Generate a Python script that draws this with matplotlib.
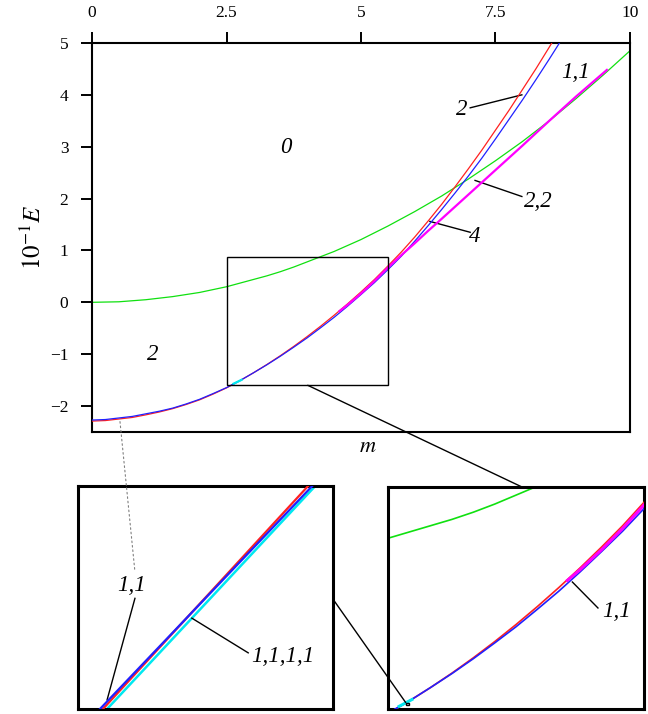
import matplotlib
matplotlib.use('Agg')
import matplotlib.pyplot as plt
from matplotlib.patches import Rectangle, ConnectionPatch

plt.rcParams['font.family'] = ['Liberation Serif', 'DejaVu Serif']
plt.rcParams['mathtext.fontset'] = 'stix'

# branches E(m) (10^-1 E)
M_RB = [0, 0.25, 0.5, 0.75, 1.0, 1.25, 1.5, 1.75, 2.0, 2.25, 2.5, 2.75, 3.0, 3.25, 3.5, 3.75, 4.0, 4.25,
        4.5, 4.75, 5.0, 5.25, 5.5, 5.75, 6.0, 6.25, 6.5, 6.75, 7.0, 7.25, 7.5, 7.75, 8.0, 8.25, 8.5, 8.75]
E_RED = [-2.29, -2.28, -2.25, -2.22, -2.17, -2.115, -2.05, -1.97, -1.88, -1.77, -1.65, -1.51, -1.36, -1.20,
         -1.03, -0.85, -0.66, -0.46, -0.25, -0.03, 0.20, 0.44, 0.70, 0.97, 1.26, 1.57, 1.89, 2.23, 2.58, 2.94,
         3.32, 3.70, 4.10, 4.50, 4.92, 5.35]
E_BLUE = [-2.27, -2.26, -2.23, -2.20, -2.15, -2.10, -2.04, -1.96, -1.87, -1.76, -1.645, -1.51, -1.36, -1.205,
          -1.04, -0.865, -0.685, -0.49, -0.29, -0.075, 0.15, 0.38, 0.63, 0.89, 1.18, 1.48, 1.79, 2.11, 2.44,
          2.785, 3.15, 3.525, 3.90, 4.29, 4.69, 5.10]
M_GREEN = [0, 0.5, 1.0, 1.5, 2.0, 2.5, 2.75, 3.0, 3.25, 3.5, 3.75, 4.0, 4.25, 4.5, 5.0, 5.5, 6.0, 6.5, 7.0,
           7.5, 8.0, 8.5, 9.0, 9.5, 10.0]
E_GREEN = [0.0, 0.01, 0.05, 0.11, 0.19, 0.30, 0.37, 0.44, 0.51, 0.59, 0.68, 0.78, 0.88, 0.98, 1.21, 1.47,
           1.75, 2.05, 2.38, 2.73, 3.10, 3.50, 3.93, 4.38, 4.85]
M_MAG = [4.6, 4.75, 5.0, 5.25, 5.5, 5.75, 6.0, 6.25, 6.5, 7.0, 7.5, 8.0, 8.5, 9.0, 9.57]
E_MAG = [-0.17, -0.05, 0.17, 0.41, 0.67, 0.91, 1.14, 1.38, 1.61, 2.08, 2.55, 3.02, 3.50, 3.97, 4.48]
M_CYAN = [2.63, 2.70, 2.78]
E_CYAN = [-1.57, -1.535, -1.495]

# fine detail near m=2.73 (left inset)
DET_E = [-1.555, -1.528]
DET_M_BLUE = [2.7107, 2.7465]
DET_M_RED = [2.7112, 2.7458]
DET_M_CYAN = [2.7119, 2.7470]

XTICKS = [0, 2.5, 5, 7.5, 10]
XTICKLABELS = ['0', '2.5', '5', '7.5', '10']
YTICKS = [-2, -1, 0, 1, 2, 3, 4, 5]

BOX = (2.5, 5.5, -1.60, 0.87)
SMALL = (2.707, 2.750, -1.555, -1.528)

RED = '#ff2020'; BLUE = '#2020ff'; GREEN = '#10e010'; MAG = '#ff00ff'; CYAN = '#00e8f0'

fig = plt.figure(figsize=(6.48, 7.14), dpi=100)
ax = fig.add_axes([0.1420, 0.3950, 0.8302, 0.5448])
axl = fig.add_axes([0.1204, 0.0070, 0.3935, 0.3123])
axr = fig.add_axes([0.5988, 0.0070, 0.3951, 0.3109])

def curves(a, lw=0.9):
    a.plot(M_GREEN, E_GREEN, color=GREEN, lw=lw, zorder=2)
    a.plot(M_RB, E_RED, color=RED, lw=lw, zorder=3)
    a.plot(M_RB, E_BLUE, color=BLUE, lw=lw, zorder=3)
    a.plot(M_MAG, E_MAG, color=MAG, lw=lw * 1.8, zorder=4)
    a.plot(M_CYAN, E_CYAN, color=CYAN, lw=lw * 1.8, zorder=5)

# main panel
curves(ax)
ax.set_xlim(0, 10); ax.set_ylim(-2.5, 5)
ax.xaxis.tick_top()
ax.set_xticks(XTICKS); ax.set_xticklabels(XTICKLABELS)
ax.set_yticks(YTICKS)
ax.tick_params(axis='x', top=True, bottom=False, direction='out', length=8, width=1.4, pad=8, labelsize=12.5)
ax.tick_params(axis='y', left=True, right=False, direction='out', length=8, width=1.4, pad=9, labelsize=12.5)
for s in ax.spines.values(): s.set_linewidth(1.5)
ax.set_xlabel('$m$', fontsize=16)
ax.xaxis.set_label_coords(0.513, -0.041); ax.xaxis.label.set_va('center')
ax.set_ylabel('$10^{-1}E$', fontsize=18)
ax.yaxis.set_label_coords(-0.11, 0.5); ax.yaxis.label.set_va('center')
ax.add_patch(Rectangle((BOX[0], BOX[2]), BOX[1] - BOX[0], BOX[3] - BOX[2], fill=False, ec='black', lw=1.0, zorder=6))

tk = dict(fontsize=16.5, style='italic', ha='center', va='center')
ln = dict(color='black', lw=1.0)
ax.text(3.61, 2.98, '0', **tk)
ax.text(1.12, -1.0, '2', **tk)
ax.text(8.98, 4.44, '1,1', **tk)
ax.text(6.88, 3.71, '2', **tk); ax.plot([7.03, 7.99], [3.75, 4.0], **ln)
ax.text(8.30, 1.94, '2,2', **tk); ax.plot([7.99, 7.12], [2.04, 2.35], **ln)
ax.text(7.12, 1.27, '4', **tk); ax.plot([7.03, 6.28], [1.35, 1.56], **ln)

# right inset: zoom of the box
curves(axr, lw=1.2)
axr.set_xlim(BOX[0], BOX[1]); axr.set_ylim(BOX[2], BOX[3])
axr.set_xticks([]); axr.set_yticks([])
for s in axr.spines.values(): s.set_linewidth(2.2)
axr.add_patch(Rectangle((SMALL[0], SMALL[2]), SMALL[1] - SMALL[0], SMALL[3] - SMALL[2], fill=False, ec='black', lw=1.0, zorder=6, clip_on=False))
axr.text(5.18, -0.52, '1,1', **tk); axr.plot([4.96, 4.66], [-0.476, -0.187], **ln)

# left inset: zoom of the small rectangle
axl.plot(DET_M_CYAN, DET_E, color=CYAN, lw=1.8, zorder=2)
axl.plot(DET_M_RED, DET_E, color=RED, lw=1.6, zorder=3)
axl.plot(DET_M_BLUE, DET_E, color=BLUE, lw=1.6, zorder=4)
axl.set_xlim(SMALL[0], SMALL[1]); axl.set_ylim(SMALL[2], SMALL[3])
axl.set_xticks([]); axl.set_yticks([])
for s in axl.spines.values(): s.set_linewidth(2.2)
axl.text(2.7161, -1.5400, '1,1', **tk); axl.plot([2.7166, 2.7119], [-1.5416, -1.5539], **ln)
axl.text(2.7415, -1.5487, '1,1,1,1', **tk); axl.plot([2.7357, 2.7262], [-1.5482, -1.5440], **ln)

# connectors
fig.add_artist(ConnectionPatch(xyA=(4.01, BOX[2]), coordsA=ax.transData, xyB=(4.07, BOX[3]), coordsB=axr.transData, color='black', lw=1.0))
fig.add_artist(ConnectionPatch(xyA=(SMALL[0], SMALL[3]), coordsA=axr.transData, xyB=(SMALL[1], -1.5417), coordsB=axl.transData, color='black', lw=1.0))
fig.add_artist(ConnectionPatch(xyA=(0.52, -2.30), coordsA=ax.transData, xyB=(2.7166, -1.5384), coordsB=axl.transData, color='gray', lw=0.8, linestyle=(0, (1.5, 2.5))))

fig.savefig('out.png', dpi=100)
